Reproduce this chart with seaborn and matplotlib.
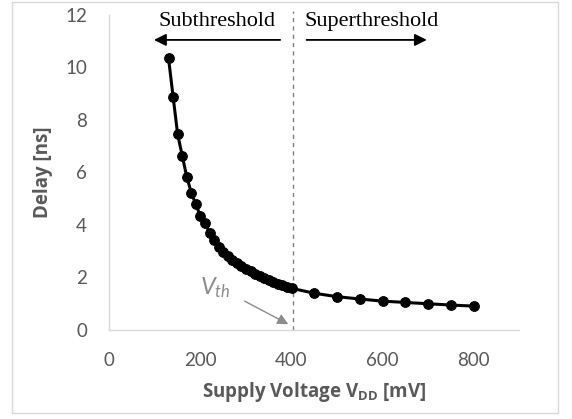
import numpy as np
import pandas as pd
import matplotlib
matplotlib.use("Agg")
import matplotlib.pyplot as plt
import seaborn as sns
from matplotlib.patches import Rectangle

# Data
vdd_mv = [130, 140, 150, 160, 170, 180, 190, 200, 210, 220, 230, 240,
          250, 260, 270, 280, 290, 300, 310, 320, 330, 340, 350, 360,
          370, 380, 390, 400, 450, 500, 550, 600, 650, 700, 750, 800]
delay_ns = [10.35, 8.89, 7.45, 6.64, 5.83, 5.22, 4.78, 4.33, 4.06, 3.70, 3.42, 3.17,
            2.97, 2.80, 2.66, 2.53, 2.42, 2.32, 2.22, 2.13, 2.04, 1.96, 1.89, 1.82,
            1.75, 1.69, 1.63, 1.58, 1.39, 1.26, 1.17, 1.09, 1.04, 0.99, 0.94, 0.90]
x_ticks = [0, 200, 400, 600, 800]
y_ticks = [0, 2, 4, 6, 8, 10, 12]
vth_mv = 403
region_labels = ["Subthreshold", "Superthreshold"]

sns.set_theme(style="white")
plt.rcParams['font.family'] = ['Lato', 'DejaVu Sans']
plt.rcParams['mathtext.fontset'] = 'custom'
plt.rcParams['mathtext.rm'] = 'Open Sans'
plt.rcParams['mathtext.bf'] = 'Open Sans:bold'
plt.rcParams['mathtext.it'] = 'Lato:italic'

df = pd.DataFrame({"vdd": vdd_mv, "delay": delay_ns})

fig = plt.figure(figsize=(5.72, 4.19), dpi=100)
ax = fig.add_axes([0.1911, 0.2131, 0.9079 - 0.1911, 0.9642 - 0.2131])

# outer chart border
fig.patches.append(Rectangle((12 / 572, 1 - 413 / 419), (558 - 12) / 572, (413 - 2) / 419,
                             transform=fig.transFigure, fill=False,
                             edgecolor="#d9d9d9", linewidth=1.0))

sns.lineplot(data=df, x="vdd", y="delay", ax=ax, color="black", linewidth=2.2,
             marker="o", markersize=7, markeredgecolor="black", markerfacecolor="black",
             zorder=3)

ax.set_xlim(0, 900)
ax.set_ylim(0, 12)
ax.set_xticks(x_ticks)
ax.set_yticks(y_ticks)
ax.tick_params(axis="both", length=0, labelsize=13.5, labelcolor="#595959")
ax.tick_params(axis="x", pad=16)
ax.tick_params(axis="y", pad=16)

for s in ["top", "right"]:
    ax.spines[s].set_visible(False)
for s in ["left", "bottom"]:
    ax.spines[s].set_color("#d9d9d9")
    ax.spines[s].set_linewidth(1.0)

label_font = dict(fontsize=13.5, fontweight="bold", color="#595959", family="Open Sans")
ax.set_xlabel(r"Supply Voltage $\mathbf{V_{DD}}$ [mV]", labelpad=8, **label_font)
ax.set_ylabel("Delay [ns]", labelpad=9, **label_font)

# threshold line
ax.plot([vth_mv, vth_mv], [0, 12.15], linestyle=(0, (3, 3)), color="#808080",
        linewidth=1.0, clip_on=False, zorder=2)

# region annotations
ax.text(236, 11.75, region_labels[0], fontsize=16, family="Liberation Serif",
        ha="center", va="center", color="black")
ax.text(575, 11.75, region_labels[1], fontsize=16, family="Liberation Serif",
        ha="center", va="center", color="black")
ax.annotate("", xy=(98, 11.05), xytext=(375, 11.05),
            arrowprops=dict(arrowstyle="-|>", color="black", lw=1.3,
                            mutation_scale=18, shrinkA=0, shrinkB=0))
ax.annotate("", xy=(697, 11.05), xytext=(433, 11.05),
            arrowprops=dict(arrowstyle="-|>", color="black", lw=1.3,
                            mutation_scale=18, shrinkA=0, shrinkB=0))

# Vth annotation
ax.text(232, 1.62, r"$V_{th}$", fontsize=17, color="#8c8c8c", ha="center", va="center")
ax.annotate("", xy=(393, 0.21), xytext=(297, 1.09),
            arrowprops=dict(arrowstyle="-|>", color="#8c8c8c", lw=1.0,
                            mutation_scale=16, shrinkA=0, shrinkB=0))

fig.savefig("out.png", dpi=100)
